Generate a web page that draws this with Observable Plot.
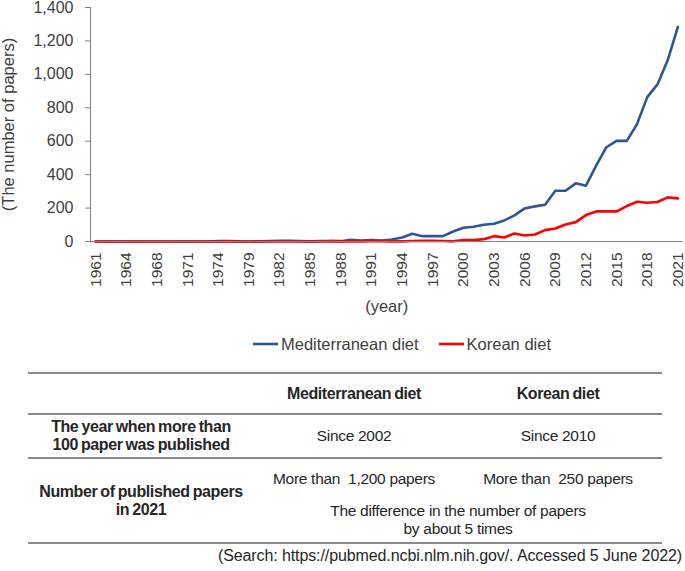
<!DOCTYPE html>
<html>
<head>
<meta charset="utf-8">
<script src="https://cdn.jsdelivr.net/npm/d3@7"></script>
<script src="https://cdn.jsdelivr.net/npm/@observablehq/plot@0.6"></script>
<style>
  body { margin: 0; background: #fff; font-family: "Liberation Sans", Arial, sans-serif; color: #262626; }
  #legend { position: absolute; left: 253px; top: 326px; height: 36px; display: flex; align-items: center; font-size: 16.5px; color: #404040; }
  #legend .item { display: flex; align-items: center; margin-right: 20px; }
  #legend svg { margin-right: 3px; }
  table { position: absolute; left: 28px; top: 372px; width: 634px; border-collapse: collapse; table-layout: fixed; font-size: 15.5px; letter-spacing: -0.3px; color: #262626; }
  td, th { box-sizing: border-box; text-align: center; padding: 0; vertical-align: middle; }
  th, .b { font-weight: bold; font-size: 16px; letter-spacing: -0.4px; word-spacing: -1px; }
  tr.top td, tr.top th { border-top: 2px solid #8a8a8a; }
  tr.last td { border-bottom: 2px solid #8a8a8a; }
  #caption { position: absolute; right: 3px; top: 547px; font-size: 16px; letter-spacing: -0.1px; color: #262626; }
</style>
</head>
<body>
<div id="chart"></div>
<div id="legend"></div>
<table>
  <colgroup><col style="width:226px"><col style="width:200px"><col style="width:208px"></colgroup>
  <tr class="top" style="height:41px"><th></th><th>Mediterranean diet</th><th>Korean diet</th></tr>
  <tr class="top" style="height:44px"><td class="b" style="line-height:18px">The year when more than<br>100 paper was published</td><td>Since 2002</td><td>Since 2010</td></tr>
  <tr class="top" style="height:40px"><td class="b" rowspan="2" style="line-height:18px;border-bottom:2px solid #8a8a8a">Number of published papers<br>in 2021</td><td>More than&nbsp; 1,200 papers</td><td>More than&nbsp; 250 papers</td></tr>
  <tr class="last" style="height:45px"><td colspan="2" style="line-height:18px">The difference in the number of papers<br>by about 5 times</td></tr>
</table>
<div id="caption">(Search: https://pubmed.ncbi.nlm.nih.gov/. Accessed 5 June 2022)</div>
<script>
const years = ["1961","1962","1963","1964","1965","1967","1968","1969","1970","1971","1972","1973","1974","1975","1976","1979",
  "1980","1981","1982","1983","1984","1985","1986","1987","1988","1989","1990","1991","1992","1993","1994","1995","1996","1997","1998","1999",
  "2000","2001","2002","2003","2004","2005","2006","2007","2008","2009","2010","2011","2012","2013","2014","2015","2016","2017","2018","2019","2020","2021"];
const mediterranean = [0,0,0,0,0,0,0,0,0,0,0,0,2,3,1,0,
  1,3,4,4,3,1,3,3,2,10,5,9,5,12,24,46,32,32,32,60,
  82,88,100,106,126,156,198,210,220,304,304,348,334,454,564,602,602,702,864,940,1084,1284];
const korean = [0,0,0,0,0,0,0,0,0,0,0,0,0,1,0,0,
  0,0,0,0,0,0,0,2,1,1,1,2,2,1,1,3,4,4,3,1,
  8,8,14,32,24,48,36,42,68,78,102,116,158,180,180,180,212,238,232,236,264,258];
const seriesNames = ["Mediterranean diet", "Korean diet"];
const seriesColors = ["#2f5597", "#ff0000"];
const yTicks = [0,200,400,600,800,1000,1200,1400];
const xTickLabels = ["1961","1964","1968","1971","1974","1979","1982","1985","1988","1991","1994","1997","2000","2003","2006","2009","2012","2015","2018","2021"];

const data = [];
years.forEach((y, i) => {
  data.push({year: y, value: mediterranean[i], series: seriesNames[0]});
  data.push({year: y, value: korean[i], series: seriesNames[1]});
});

const chart = Plot.plot({
  width: 685,
  height: 326,
  marginLeft: 90,
  marginRight: 2.5,
  marginTop: 7,
  marginBottom: 85,
  style: {fontFamily: "'Liberation Sans', Arial, sans-serif", fontSize: "16px", color: "#404040", background: "#fff", overflow: "visible"},
  x: {type: "point", domain: years, padding: 0.5, round: false},
  y: {domain: [0, 1400]},
  color: {domain: seriesNames, range: seriesColors},
  marks: [
    Plot.axisY({ticks: yTicks, tickFormat: d3.format(","), tickSize: 5, tickPadding: 12, label: null, stroke: "#808080"}),
    Plot.axisX({ticks: xTickLabels, tickRotate: -90, tickSize: 0, tickPadding: 11, label: null, fontSize: 15.5}),
    Plot.frame({anchor: "left", stroke: "#808080"}),
    Plot.line(data, {x: "year", y: "value", z: "series", stroke: "series", strokeWidth: 2.6}),
    Plot.ruleY([0], {stroke: "#808080", strokeWidth: 1.2}),
    Plot.text(["(year)"], {frameAnchor: "bottom", dy: 70, fontSize: 16.5, fill: "#404040"}),
    Plot.text(["(The number of papers)"], {frameAnchor: "left", textAnchor: "middle", dx: -82, rotate: -90, fontSize: 16.5, fill: "#404040"})
  ]
});
document.getElementById("chart").appendChild(chart);

const legend = document.getElementById("legend");
seriesNames.forEach((n, i) => {
  const item = document.createElement("div");
  item.className = "item";
  item.innerHTML = `<svg width="25" height="10"><line x1="0" x2="25" y1="5" y2="5" stroke="${seriesColors[i]}" stroke-width="2.6"/></svg><span>${n}</span>`;
  legend.appendChild(item);
});
</script>
</body>
</html>
